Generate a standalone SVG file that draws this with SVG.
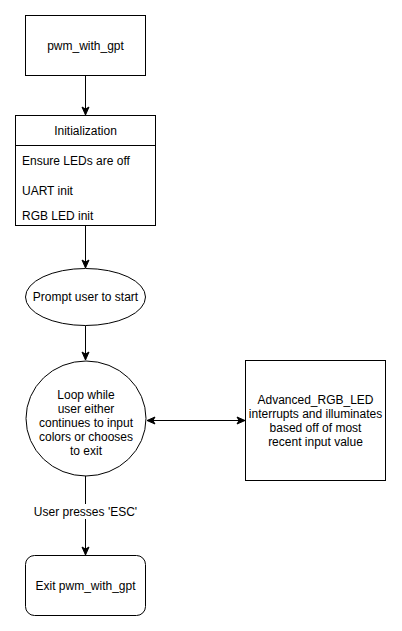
<svg xmlns="http://www.w3.org/2000/svg" width="402" height="631" viewBox="0 0 402 631">
<style>
.s{fill:#fff;stroke:#000;stroke-width:1}
.t{font-family:"Liberation Sans",Arial,sans-serif;font-size:12px;fill:#000}
.c{text-anchor:middle}
.e{fill:none;stroke:#000;stroke-width:1}
</style>
<defs>
<marker id="a" viewBox="0 0 10 10" refX="9" refY="5" markerWidth="10" markerHeight="10" markerUnits="userSpaceOnUse" orient="auto-start-reverse">
<path d="M1,1.5 L9,5 L1,8.5 L3,5 Z" fill="#000" stroke="#000" stroke-width="1"/>
</marker>
</defs>
<rect width="402" height="631" fill="#fff"/>
<g id="connectors">
<line class="e" x1="85.5" y1="75.5" x2="85.5" y2="115" marker-end="url(#a)"/>
<line class="e" x1="85.5" y1="225.5" x2="85.5" y2="268" marker-end="url(#a)"/>
<line class="e" x1="85.5" y1="325.5" x2="85.5" y2="360" marker-end="url(#a)"/>
<line class="e" x1="147" y1="420.5" x2="245" y2="420.5" marker-start="url(#a)" marker-end="url(#a)"/>
<line class="e" x1="85.5" y1="476" x2="85.5" y2="555" marker-end="url(#a)"/>
<rect x="33" y="504" width="105" height="15" fill="#fff"/>
<text class="t c" x="85.5" y="516">User presses 'ESC'</text>
</g>
<g id="pwm_with_gpt">
<rect class="s" x="25.5" y="15.5" width="120" height="60"/>
<text class="t c" x="85.5" y="50">pwm_with_gpt</text>
</g>
<g id="initialization">
<rect class="s" x="15.5" y="115.5" width="140" height="110"/>
<line class="e" x1="15.5" y1="145.5" x2="155.5" y2="145.5"/>
<text class="t c" x="85.5" y="135">Initialization</text>
<text class="t" x="22" y="165">Ensure LEDs are off</text>
<text class="t" x="22" y="195">UART init</text>
<text class="t" x="22" y="220">RGB LED init</text>
</g>
<g id="prompt">
<ellipse class="s" cx="85.5" cy="297" rx="60" ry="28.5"/>
<text class="t c" x="85.5" y="301">Prompt user to start</text>
</g>
<g id="loop">
<ellipse class="s" cx="86" cy="418.5" rx="60" ry="57.5"/>
<text class="t c" x="86" y="399">Loop while</text>
<text class="t c" x="86" y="413">user either</text>
<text class="t c" x="86" y="427">continues to input</text>
<text class="t c" x="86" y="441">colors or chooses</text>
<text class="t c" x="86" y="455">to exit</text>
</g>
<g id="advanced">
<rect class="s" x="245.5" y="360.5" width="140" height="120"/>
<text class="t c" x="315.5" y="404">Advanced_RGB_LED</text>
<text class="t c" x="315.5" y="418">interrupts and illuminates</text>
<text class="t c" x="315.5" y="432">based off of most</text>
<text class="t c" x="315.5" y="446">recent input value</text>
</g>
<g id="exit">
<rect class="s" x="25.5" y="555.5" width="120" height="60" rx="9" ry="9"/>
<text class="t c" x="85.5" y="590">Exit pwm_with_gpt</text>
</g>
</svg>
